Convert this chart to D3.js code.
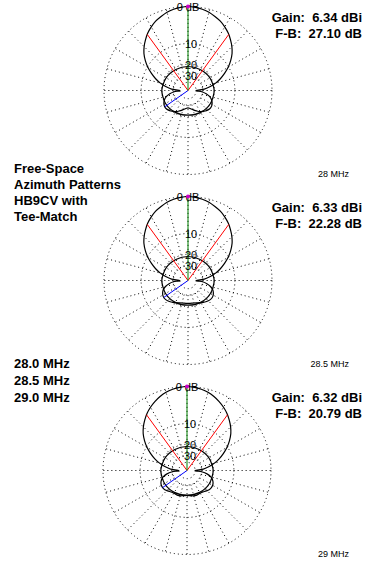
<!DOCTYPE html>
<html lang="en">
<head>
<meta charset="UTF-8">
<title>HB9CV Azimuth Patterns</title>
<style>
    body { margin:0; background:#fff; }
    text { font-family: "Liberation Sans", Arial, sans-serif; }
</style>
</head>
<body>
<svg width="376" height="570"></svg>
<script src="https://d3js.org/d3.v7.min.js"></script>
<script>
    // azimuth (deg, 0 = forward, clockwise); patterns are symmetric so only 0..180 is listed
    var angles = d3.range(0, 181, 5);
    // main (horizontal) pattern, relative dB
    var gain28  = [0, -0.1, -0.3, -0.6, -1.1, -1.6, -2.3, -3.1, -4.1, -5.2, -6.5, -8.2, -10.2, -12.6, -15.3, -18.5, -22.5, -28, -40,
                   -31, -26, -23, -21, -19.8, -19, -18.6, -18.6, -19, -19.6, -20.4, -21.3, -22.3, -23.4, -24.6, -25.7, -26.6, -27.1];
    var gain285 = [0, -0.1, -0.3, -0.6, -1.1, -1.6, -2.3, -3.1, -4.1, -5.2, -6.5, -8.2, -10.2, -12.6, -15.3, -18.5, -22.5, -28, -40,
                   -30, -25, -22, -20, -18.9, -18.2, -17.9, -18, -18.4, -19, -19.7, -20.4, -21, -21.6, -22, -22.2, -22.3, -22.3];
    var gain29  = [0, -0.1, -0.3, -0.6, -1.1, -1.7, -2.4, -3.2, -4.2, -5.3, -6.6, -8.3, -10.3, -12.7, -15.4, -18.6, -22.6, -28, -40,
                   -30, -24, -21, -19.4, -18.4, -17.9, -17.8, -18, -18.6, -19.3, -19.8, -20, -19.9, -19.8, -20, -20.4, -20.7, -20.8];
    // second (near omni) trace
    var vAngles = [0, 30, 60, 90, 120, 150, 180];
    var vGain28  = [-21.5, -21.3, -20.6, -20, -20.2, -20.6, -21];
    var vGain285 = [-21.5, -21.3, -20.6, -20, -20.2, -20.6, -21];
    var vGain29  = [-21.5, -21.3, -20.6, -20, -20.2, -20.6, -21];

    var freqLabels = ["28 MHz", "28.5 MHz", "29 MHz"];
    var gainText = ["Gain:  6.34 dBi", "Gain:  6.33 dBi", "Gain:  6.32 dBi"];
    var fbText = ["F-B:  27.10 dB", "F-B:  22.28 dB", "F-B:  20.79 dB"];
    var halfPower = [36, 36, 36];     // -3 dB beamwidth half angle
    var rearLobe = [125, 125, 125];   // direction of worst rear lobe
    var ringDb = [0, -10, -20, -30, -40];
    var ringText = ["0 dB", "10", "20", "30"];
    var titleLines = ["Free-Space", "Azimuth Patterns", "HB9CV with", "Tee-Match"];
    var freqLines = ["28.0 MHz", "28.5 MHz", "29.0 MHz"];

    var svg = d3.select("svg");
    svg.append("rect").attr("width", 376).attr("height", 570).attr("fill", "#fff");

    var R = 84;
    // ARRL log-periodic scale: each 2 dB down is 0.89 of radius
    var rad = function(db){ return R * Math.pow(0.89, -db / 2); };
    var toRad = d3.scaleLinear().domain([0, 360]).range([0, 2 * Math.PI]);

    var centers = [[188, 90.5], [188, 280.5], [187, 470.5]];
    var gainsAll = [gain28, gain285, gain29];
    var vAll = [vGain28, vGain285, vGain29];

    function fullPattern(ang, g){
        var pts = ang.map(function(a, i){ return {a: a, db: g[i]}; });
        for (var i = ang.length - 2; i > 0; i--) pts.push({a: 360 - ang[i], db: g[i]});
        return pts;
    }

    function valueAt(g, a){
        var b = a > 180 ? 360 - a : a;
        return d3.scaleLinear().domain(angles).range(g)(b);
    }

    var line = d3.lineRadial()
        .angle(function(d){ return toRad(d.a); })
        .radius(function(d){ return rad(d.db); })
        .curve(d3.curveCardinalClosed.tension(0.2));

    centers.forEach(function(c, k){
        var g = svg.append("g").attr("transform", "translate(" + c[0] + "," + c[1] + ")");

        // grid rings
        g.selectAll("circle.ring")
            .data(ringDb)
            .enter().append("circle")
            .attr("class", "ring")
            .attr("r", rad)
            .attr("fill", "none")
            .attr("stroke", "#000")
            .attr("stroke-width", 1)
            .attr("stroke-dasharray", "1,3");

        // spokes
        g.selectAll("line.spoke")
            .data(d3.range(0, 360, 15))
            .enter().append("line")
            .attr("class", "spoke")
            .attr("x1", function(d){ return rad(-30) * Math.sin(toRad(d)); })
            .attr("y1", function(d){ return -rad(-30) * Math.cos(toRad(d)); })
            .attr("x2", function(d){ return R * Math.sin(toRad(d)); })
            .attr("y2", function(d){ return -R * Math.cos(toRad(d)); })
            .attr("stroke", "#000")
            .attr("stroke-dasharray", "1,3");

        // patterns
        g.append("path")
            .datum(fullPattern(vAngles, vAll[k]))
            .attr("d", line)
            .attr("fill", "none")
            .attr("stroke", "#000")
            .attr("stroke-width", 1.2);
        g.append("path")
            .datum(fullPattern(angles, gainsAll[k]))
            .attr("d", line)
            .attr("fill", "none")
            .attr("stroke", "#000")
            .attr("stroke-width", 1.2);

        // -3 dB lines
        [halfPower[k], 360 - halfPower[k]].forEach(function(a){
            var r = rad(valueAt(gainsAll[k], a));
            g.append("line")
                .attr("x1", 0).attr("y1", 0)
                .attr("x2", r * Math.sin(toRad(a)))
                .attr("y2", -r * Math.cos(toRad(a)))
                .attr("stroke", "#f00");
        });

        // rear lobe line
        var ra = 360 - rearLobe[k], rr = rad(valueAt(gainsAll[k], ra));
        g.append("line")
            .attr("x1", 0).attr("y1", 0)
            .attr("x2", rr * Math.sin(toRad(ra)))
            .attr("y2", -rr * Math.cos(toRad(ra)))
            .attr("stroke", "#00f");

        // max gain line
        g.append("line")
            .attr("x1", 0).attr("y1", 0)
            .attr("x2", 0).attr("y2", -R)
            .attr("stroke", "#008000");

        // ring labels
        g.selectAll("text.rl")
            .data(ringText)
            .enter().append("text")
            .attr("class", "rl")
            .attr("x", function(d, i){ return i == 0 ? 0 : 3; })
            .attr("y", function(d, i){ return -rad(ringDb[i]); })
            .attr("dy", "0.4em")
            .attr("text-anchor", "middle")
            .attr("font-size", 11)
            .text(function(d){ return d; });

        g.append("circle")
            .attr("cx", 0).attr("cy", -R)
            .attr("r", 2)
            .attr("fill", "#c0c");

        // gain / F-B
        svg.append("text")
            .attr("x", 362).attr("y", c[1] - 69)
            .attr("text-anchor", "end")
            .attr("font-size", 13).attr("font-weight", "bold")
            .attr("xml:space", "preserve")
            .text(gainText[k]);
        svg.append("text")
            .attr("x", 362).attr("y", c[1] - 53)
            .attr("text-anchor", "end")
            .attr("font-size", 13).attr("font-weight", "bold")
            .attr("xml:space", "preserve")
            .text(fbText[k]);

        svg.append("text")
            .attr("x", 349).attr("y", c[1] + 86)
            .attr("text-anchor", "end")
            .attr("font-size", 9)
            .text(freqLabels[k]);
    });

    svg.selectAll("text.title")
        .data(titleLines)
        .enter().append("text")
        .attr("x", 14)
        .attr("y", function(d, i){ return 173 + i * 16; })
        .attr("font-size", 13).attr("font-weight", "bold")
        .text(function(d){ return d; });

    svg.selectAll("text.freq")
        .data(freqLines)
        .enter().append("text")
        .attr("x", 14)
        .attr("y", function(d, i){ return 368 + i * 17; })
        .attr("font-size", 13).attr("font-weight", "bold")
        .text(function(d){ return d; });
</script>
</body>
</html>
